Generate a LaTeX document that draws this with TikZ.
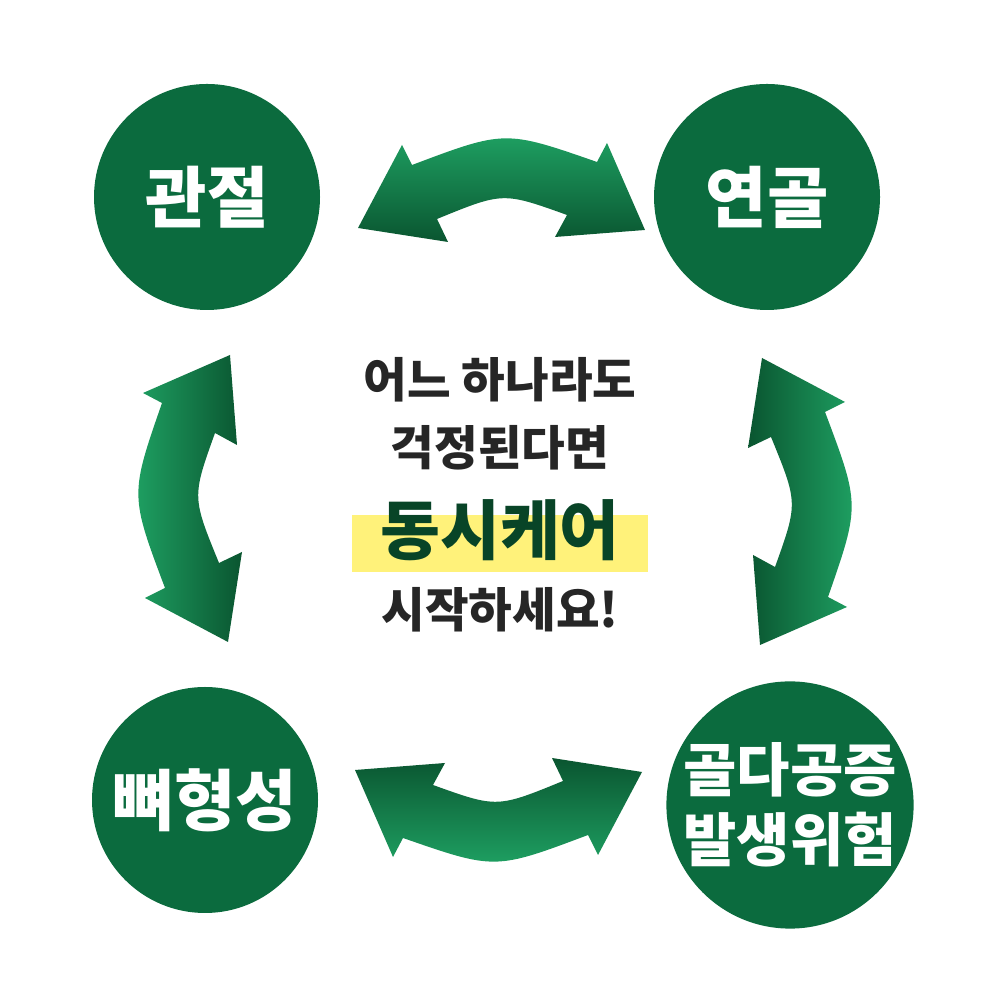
\documentclass[tikz,border=0pt]{standalone}
\usepackage{fontspec}
\setmainfont{Noto Sans CJK KR}
\usetikzlibrary{positioning}
\definecolor{circgreen}{HTML}{0B6B3E}
\definecolor{lightgreen}{HTML}{1FA364}
\definecolor{darkgreen}{HTML}{0A5530}
\definecolor{marker}{HTML}{FFF27A}
\tikzset{
  bubble/.style={circle, fill=circgreen, minimum size=2.26cm, inner sep=0pt, text=white, font=\bfseries\fontsize{19}{22}\selectfont, align=center},
  msg/.style={font=\bfseries\fontsize{13.5}{15}\selectfont, text=black!85},
  swap/.style={shading=axis, top color=lightgreen, bottom color=darkgreen, shading angle=#1, draw=none}
}
\newcommand{\swaparrow}[1]{%
  \path[swap=#1] (-1.42,2.72) -- (-0.98,3.55) -- (-0.88,3.35)
    .. controls (0.05,3.70) .. (0.97,3.38) -- (1.07,3.57) -- (1.45,2.70)
    -- (0.55,2.63) -- (0.67,2.85) .. controls (0.03,3.08) .. (-0.63,2.81)
    -- (-0.52,2.58) -- cycle;}
\begin{document}
\begin{tikzpicture}
\useasboundingbox (0,0) rectangle (10,10);
% circles
\node[bubble] (joint) at (2.07,8.03) {관절};
\node[bubble] (spine) at (7.67,8.03) {연골};
\node[bubble] (bone) at (2.05,2.00) {뼈형성};
\node[bubble, minimum size=2.2cm, font=\bfseries\fontsize{16.5}{20}\selectfont] (risk) at (7.90,1.95) {골다공증\\발생위험};
% arrows
\begin{scope}[shift={(5,5)}]
  \swaparrow{0}
  \begin{scope}[rotate=90]\swaparrow{90}\end{scope}
  \begin{scope}[rotate=-90, yshift=-0.1cm]\swaparrow{-90}\end{scope}
  \begin{scope}[rotate=180]\swaparrow{180}\end{scope}
\end{scope}
% centre text
\fill[marker] (3.52,4.28) rectangle (6.48,4.85);
\node[msg] (l1) at (5,6.20) {어느 하나라도};
\node[msg, below=-0.02cm of l1] (l2) {걱정된다면};
\node[font=\bfseries\fontsize{18.5}{20}\selectfont, text=darkgreen!80!black] (l3) at (5,4.70) {동시케어};
\node[msg] (l4) at (5,3.90) {시작하세요!};
\end{tikzpicture}
\end{document}
